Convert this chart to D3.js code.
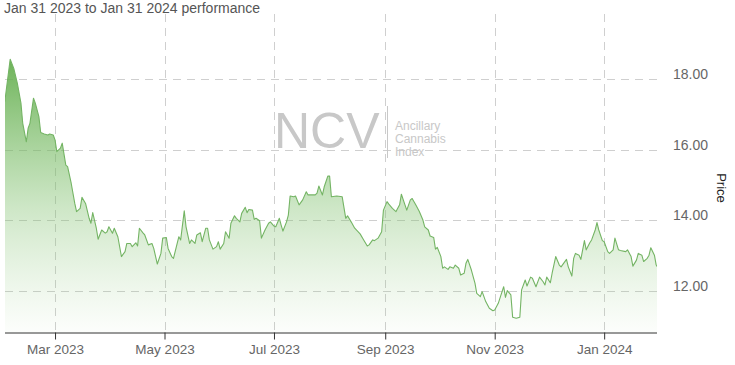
<!DOCTYPE html>
<html lang="en">
  <head>
    <meta charset="utf-8" />
    <title>NCV performance</title>
    <style>
      body { margin: 0; background: #fff; }
      svg text { font-family: "Liberation Sans", Arial, sans-serif; }
    </style>
  </head>
  <body>
    <div id="chart"></div>
    <script src="https://d3js.org/d3.v7.min.js"></script>
    <script>
      // daily closes
      const dates = [
        "2023-02-01","2023-02-04","2023-02-06","2023-02-08","2023-02-10","2023-02-11","2023-02-13","2023-02-14",
        "2023-02-15","2023-02-17","2023-02-18","2023-02-20","2023-02-21","2023-02-23","2023-02-25","2023-02-26",
        "2023-02-28","2023-03-01","2023-03-02","2023-03-04","2023-03-05","2023-03-07","2023-03-08","2023-03-10",
        "2023-03-12","2023-03-13","2023-03-15","2023-03-16","2023-03-18","2023-03-20","2023-03-21","2023-03-22",
        "2023-03-24","2023-03-25","2023-03-27","2023-03-29","2023-03-30","2023-03-31","2023-04-02","2023-04-03",
        "2023-04-05","2023-04-07","2023-04-09","2023-04-10","2023-04-12","2023-04-13","2023-04-15","2023-04-16",
        "2023-04-17","2023-04-19","2023-04-20","2023-04-22","2023-04-24","2023-04-25","2023-04-27","2023-04-29",
        "2023-04-30","2023-05-02","2023-05-03","2023-05-05","2023-05-06","2023-05-09","2023-05-10","2023-05-12",
        "2023-05-13","2023-05-15","2023-05-16","2023-05-18","2023-05-19","2023-05-21","2023-05-22","2023-05-24",
        "2023-05-25","2023-05-26","2023-05-28","2023-05-30","2023-05-31","2023-06-01","2023-06-03","2023-06-04",
        "2023-06-06","2023-06-07","2023-06-09","2023-06-10","2023-06-12","2023-06-13","2023-06-15","2023-06-16",
        "2023-06-17","2023-06-19","2023-06-20","2023-06-21","2023-06-23","2023-06-24","2023-06-26","2023-06-28",
        "2023-06-29","2023-07-01","2023-07-02","2023-07-04","2023-07-05","2023-07-06","2023-07-08","2023-07-09",
        "2023-07-10","2023-07-12","2023-07-13","2023-07-15","2023-07-17","2023-07-19","2023-07-20","2023-07-22",
        "2023-07-24","2023-07-25","2023-07-26","2023-07-28","2023-07-29","2023-07-31","2023-08-01","2023-08-02",
        "2023-08-05","2023-08-08","2023-08-10","2023-08-11","2023-08-13","2023-08-15","2023-08-18","2023-08-20",
        "2023-08-22","2023-08-23","2023-08-25","2023-08-26","2023-08-28","2023-08-30","2023-08-31","2023-09-02",
        "2023-09-03","2023-09-05","2023-09-07","2023-09-09","2023-09-10","2023-09-12","2023-09-13","2023-09-15",
        "2023-09-16","2023-09-18","2023-09-20","2023-09-22","2023-09-23","2023-09-25","2023-09-26","2023-09-28",
        "2023-09-29","2023-09-30","2023-10-02","2023-10-03","2023-10-04","2023-10-06","2023-10-07","2023-10-09",
        "2023-10-10","2023-10-12","2023-10-13","2023-10-15","2023-10-16","2023-10-17","2023-10-19","2023-10-21",
        "2023-10-22","2023-10-24","2023-10-25","2023-10-27","2023-10-29","2023-10-31","2023-11-01","2023-11-03",
        "2023-11-06","2023-11-07","2023-11-08","2023-11-10","2023-11-11","2023-11-13","2023-11-15","2023-11-16",
        "2023-11-18","2023-11-19","2023-11-21","2023-11-22","2023-11-24","2023-11-26","2023-11-28","2023-11-29",
        "2023-11-30","2023-12-02","2023-12-03","2023-12-05","2023-12-07","2023-12-08","2023-12-11","2023-12-12",
        "2023-12-14","2023-12-15","2023-12-16","2023-12-18","2023-12-19","2023-12-21","2023-12-22","2023-12-24",
        "2023-12-25","2023-12-27","2023-12-28","2023-12-29","2023-12-31","2024-01-01","2024-01-03","2024-01-04",
        "2024-01-06","2024-01-07","2024-01-09","2024-01-10","2024-01-13","2024-01-14","2024-01-16","2024-01-17",
        "2024-01-19","2024-01-20","2024-01-22","2024-01-23","2024-01-25","2024-01-26","2024-01-27","2024-01-29",
        "2024-01-30","2024-01-31"
      ];
      const prices = [
        17.35,18.55,18.29,17.87,17.31,16.74,16.22,16.60,
        16.74,17.45,17.31,16.93,16.48,16.44,16.41,16.44,
        16.41,16.27,15.94,16.04,16.18,15.56,15.52,15.05,
        14.48,14.25,14.34,14.65,14.48,14.06,13.92,14.22,
        13.78,13.47,13.73,13.64,13.68,13.82,13.64,13.78,
        13.54,12.98,13.12,13.35,13.35,13.26,13.37,13.28,
        13.78,13.65,13.59,13.31,13.35,13.21,12.77,13.07,
        13.50,13.52,13.21,12.98,12.93,13.54,13.45,14.27,
        13.82,13.35,13.45,13.35,13.59,13.65,13.40,13.78,
        13.78,13.45,13.19,13.26,13.40,13.19,13.35,13.68,
        13.50,13.92,14.13,14.06,13.96,14.20,14.37,14.22,
        14.31,14.29,14.03,14.06,13.99,13.50,13.73,13.92,
        13.96,13.84,13.82,14.06,13.87,13.70,13.96,14.15,
        14.69,14.67,14.69,14.44,14.58,14.81,14.72,14.72,
        14.72,14.77,14.97,14.72,14.95,15.25,15.25,14.67,
        14.69,14.67,14.06,14.13,13.96,13.78,13.62,13.45,
        13.28,13.31,13.45,13.43,13.50,13.68,14.29,14.53,
        14.46,14.34,14.25,14.44,14.74,14.44,14.29,14.58,
        14.62,14.44,14.25,14.01,13.82,13.73,13.56,13.52,
        13.19,13.24,12.98,12.65,12.69,12.62,12.69,12.65,
        12.74,12.65,12.46,12.51,12.79,12.90,12.60,12.23,
        11.94,11.85,11.99,11.71,11.52,11.45,11.47,11.66,
        12.13,11.83,12.02,11.90,11.27,11.24,11.27,12.04,
        12.32,12.15,12.40,12.37,12.13,12.40,12.27,12.18,
        12.40,12.24,12.51,12.98,12.74,12.69,12.90,12.69,
        12.43,12.93,13.07,13.02,12.90,13.43,13.17,13.37,
        13.45,13.73,13.94,13.73,13.43,13.40,13.12,13.07,
        13.17,13.50,13.17,13.15,13.12,13.17,12.98,12.71,
        12.88,13.07,13.02,12.84,12.93,13.02,13.23,13.02,
        12.74,12.66
      ];
      const xTickDates = ["2023-03-01","2023-05-01","2023-07-01","2023-09-01","2023-11-01","2024-01-01"];
      const yTicks = [12, 14, 16, 18];
      const watermarkLines = ["Ancillary", "Cannabis", "Index"];

      const width = 735, height = 365;
      const plotLeft = 5, plotRight = 657, plotTop = 14, plotBottom = 332.5;
      const parse = d3.timeParse("%Y-%m-%d");
      const data = dates.map((d, i) => ({ date: parse(d), price: prices[i] }));

      const xScale = d3.scaleTime()
        .domain([parse("2023-01-31"), parse("2024-01-31")])
        .range([3, 658]);
      const yScale = d3.scaleLinear()
        .domain([12, 18])
        .range([291.3, 78.7]);

      const svg = d3.select("#chart")
        .append("svg")
        .attr("width", width)
        .attr("height", height);

      const defs = svg.append("defs");
      const grad = defs.append("linearGradient")
        .attr("id", "fillGrad")
        .attr("gradientUnits", "userSpaceOnUse")
        .attr("x1", 0).attr("x2", 0)
        .attr("y1", 55).attr("y2", plotBottom);
      grad.append("stop").attr("offset", "0%").attr("stop-color", "#62ad4c").attr("stop-opacity", 0.95);
      grad.append("stop").attr("offset", "55%").attr("stop-color", "#7dbf6a").attr("stop-opacity", 0.38);
      grad.append("stop").attr("offset", "100%").attr("stop-color", "#9fd08f").attr("stop-opacity", 0.03);

      defs.append("clipPath").attr("id", "plotClip")
        .append("rect")
        .attr("x", plotLeft).attr("y", plotTop)
        .attr("width", plotRight - plotLeft).attr("height", plotBottom - plotTop);

      // title
      svg.append("text")
        .attr("x", 4)
        .attr("y", 12.5)
        .attr("fill", "#555")
        .style("font-size", "14px")
        .text("Jan 31 2023 to Jan 31 2024 performance");

      // gridlines
      const grid = svg.append("g")
        .attr("stroke", "#cfcfcf")
        .attr("stroke-width", 1)
        .attr("stroke-dasharray", "8,6");
      grid.selectAll("line.h")
        .data(yTicks)
        .enter()
        .append("line")
        .attr("class", "h")
        .attr("x1", plotLeft).attr("x2", 661)
        .attr("y1", d => Math.round(yScale(d)) + 0.5)
        .attr("y2", d => Math.round(yScale(d)) + 0.5);
      grid.selectAll("line.v")
        .data(xTickDates)
        .enter()
        .append("line")
        .attr("class", "v")
        .attr("x1", d => Math.round(xScale(parse(d))) + 0.5)
        .attr("x2", d => Math.round(xScale(parse(d))) + 0.5)
        .attr("y1", plotTop).attr("y2", plotBottom);

      // watermark
      const wm = svg.append("g").attr("fill", "#c8c8c8");
      wm.append("text")
        .attr("x", 274)
        .attr("y", 148)
        .style("font-size", "50px")
        .text("NCV");
      wm.append("line")
        .attr("x1", 387.5).attr("x2", 387.5)
        .attr("y1", 106).attr("y2", 158)
        .attr("stroke", "#c8c8c8");
      wm.selectAll("text.sub")
        .data(watermarkLines)
        .enter()
        .append("text")
        .attr("class", "sub")
        .attr("x", 395)
        .attr("y", (d, i) => 130 + i * 13)
        .style("font-size", "12px")
        .text(d => d);

      // area + line
      const area = d3.area()
        .x(d => xScale(d.date))
        .y0(plotBottom)
        .y1(d => yScale(d.price));
      const line = d3.line()
        .x(d => xScale(d.date))
        .y(d => yScale(d.price));

      const plot = svg.append("g").attr("clip-path", "url(#plotClip)");
      plot.append("path")
        .datum(data)
        .attr("d", area)
        .attr("fill", "url(#fillGrad)");
      plot.append("path")
        .datum(data)
        .attr("d", line)
        .attr("fill", "none")
        .attr("stroke", "#74b464")
        .attr("stroke-width", 1.1)
        .attr("stroke-linejoin", "round");

      // x axis
      const xAxis = svg.append("g")
        .attr("transform", `translate(0,${plotBottom})`)
        .call(d3.axisBottom(xScale)
          .tickValues(xTickDates.map(parse))
          .tickFormat(d3.timeFormat("%b %Y"))
          .tickSizeInner(7)
          .tickSizeOuter(0)
          .tickPadding(5));
      xAxis.select(".domain")
        .attr("d", `M${plotLeft},0.5H${plotRight}`)
        .attr("stroke", "#333");
      xAxis.selectAll(".tick line").attr("stroke", "#333");
      xAxis.selectAll(".tick text")
        .attr("fill", "#666")
        .style("font-size", "13.5px")
        .style("font-family", "'Liberation Sans', Arial, sans-serif");

      // y labels on the right
      svg.append("g")
        .selectAll("text")
        .data(yTicks)
        .enter()
        .append("text")
        .attr("x", 673)
        .attr("y", d => yScale(d))
        .attr("fill", "#666")
        .style("font-size", "14px")
        .text(d => d3.format(".2f")(d));

      svg.append("text")
        .attr("transform", "translate(717,188) rotate(90)")
        .attr("text-anchor", "middle")
        .attr("fill", "#222")
        .style("font-size", "13px")
        .text("Price");
    </script>
  </body>
</html>
